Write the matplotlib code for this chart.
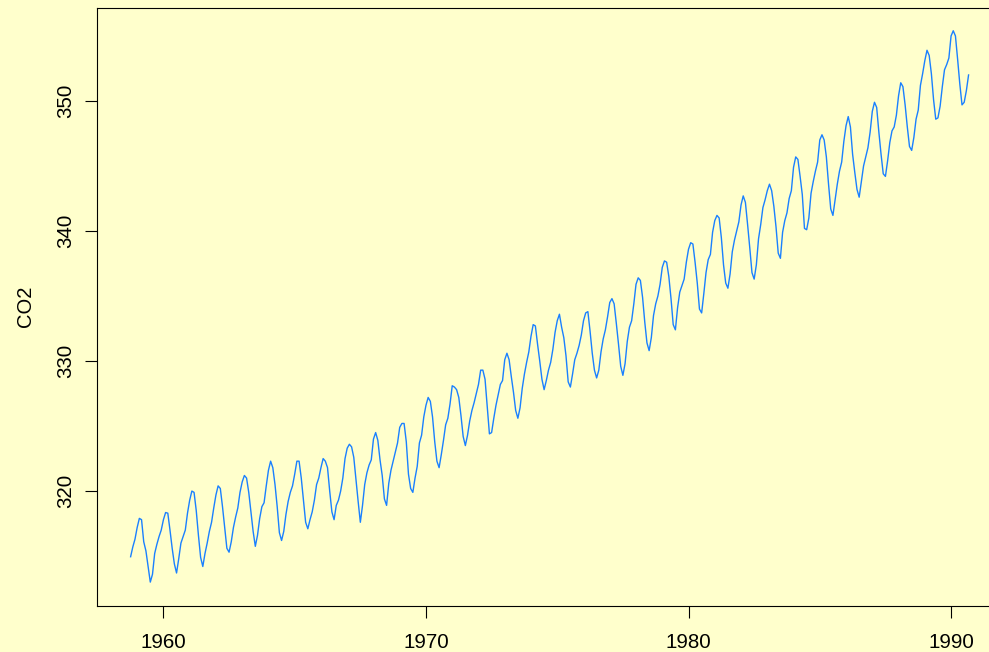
import numpy as np
import matplotlib
matplotlib.use("Agg")
import matplotlib.pyplot as plt

# monthly CO2 series, 12 values per line
start = 1958.75
freq = 12
co2 = [
    314.95, 315.7, 316.3, 317.2, 317.9, 317.8, 316.1, 315.4, 314.2, 313.0, 313.6, 315.2,
    315.9, 316.5, 317.0, 317.8, 318.35, 318.3, 317.0, 315.6, 314.4, 313.7, 314.8, 316.0,
    316.5, 317.0, 318.3, 319.3, 320.0, 319.9, 318.5, 316.6, 314.9, 314.2, 315.2, 316.0,
    316.9, 317.6, 318.7, 319.7, 320.4, 320.2, 318.8, 317.2, 315.6, 315.3, 316.1, 317.2,
    318.0, 318.7, 319.9, 320.7, 321.2, 321.0, 319.9, 318.4, 316.9, 315.75, 316.6, 317.9,
    318.8, 319.1, 320.4, 321.6, 322.3, 321.8, 320.5, 318.8, 316.8, 316.2, 316.9, 318.2,
    319.2, 319.9, 320.4, 321.3, 322.3, 322.3, 321.0, 319.3, 317.6, 317.1, 317.8, 318.4,
    319.3, 320.5, 321.0, 321.8, 322.5, 322.3, 321.8, 320.0, 318.4, 317.8, 318.9, 319.3,
    320.0, 321.0, 322.5, 323.3, 323.6, 323.4, 322.6, 320.9, 319.2, 317.6, 318.9, 320.5,
    321.4, 322.0, 322.4, 324.0, 324.5, 323.9, 322.4, 321.2, 319.4, 318.9, 320.6, 321.6,
    322.3, 323.0, 323.7, 324.9, 325.2, 325.2, 323.8, 321.3, 320.2, 319.9, 321.0, 321.9,
    323.7, 324.3, 325.7, 326.6, 327.2, 326.9, 325.7, 323.8, 322.3, 321.8, 322.8, 323.9,
    325.1, 325.6, 326.7, 328.1, 328.0, 327.8, 327.2, 325.8, 324.2, 323.5, 324.3, 325.4,
    326.2, 326.8, 327.5, 328.2, 329.3, 329.3, 328.6, 326.5, 324.4, 324.5, 325.6, 326.6,
    327.4, 328.2, 328.5, 330.1, 330.6, 330.1, 328.8, 327.6, 326.2, 325.6, 326.4, 327.9,
    329.0, 329.9, 330.7, 331.9, 332.8, 332.7, 331.3, 330.0, 328.6, 327.8, 328.5, 329.3,
    329.9, 330.9, 332.2, 333.1, 333.6, 332.6, 331.8, 330.4, 328.4, 328.0, 329.0, 330.1,
    330.6, 331.2, 332.0, 333.1, 333.7, 333.8, 332.3, 330.6, 329.3, 328.7, 329.3, 330.7,
    331.7, 332.4, 333.4, 334.5, 334.8, 334.4, 332.9, 331.3, 329.6, 328.9, 329.8, 331.5,
    332.6, 333.1, 334.4, 335.9, 336.4, 336.2, 334.9, 333.0, 331.4, 330.8, 331.8, 333.5,
    334.4, 335.0, 335.9, 337.2, 337.7, 337.6, 336.5, 334.8, 332.8, 332.4, 334.1, 335.3,
    335.8, 336.3, 337.6, 338.6, 339.1, 339.0, 337.6, 336.0, 334.0, 333.7, 335.2, 336.8,
    337.8, 338.2, 339.9, 340.8, 341.2, 341.0, 339.5, 337.4, 336.0, 335.6, 336.7, 338.4,
    339.3, 340.0, 340.7, 342.0, 342.7, 342.2, 340.5, 338.7, 336.8, 336.3, 337.4, 339.4,
    340.5, 341.8, 342.4, 343.1, 343.6, 343.1, 341.9, 340.3, 338.3, 337.9, 339.9, 340.8,
    341.4, 342.5, 343.1, 344.9, 345.7, 345.5, 344.2, 342.8, 340.2, 340.1, 341.0, 342.9,
    343.8, 344.6, 345.3, 347.0, 347.4, 347.0, 345.7, 343.6, 341.7, 341.2, 342.4, 343.6,
    344.6, 345.3, 346.9, 348.1, 348.8, 348.0, 345.9, 344.5, 343.2, 342.6, 343.8, 345.0,
    345.7, 346.4, 347.6, 349.2, 349.9, 349.5, 347.6, 345.9, 344.4, 344.2, 345.4, 346.8,
    347.7, 348.0, 348.9, 350.4, 351.4, 351.1, 349.7, 348.0, 346.5, 346.2, 347.2, 348.6,
    349.3, 351.2, 352.1, 353.1, 353.9, 353.5, 352.1, 350.1, 348.6, 348.7, 349.6, 351.1,
    352.4, 352.8, 353.3, 355.0, 355.4, 355.0, 353.2, 351.3, 349.7, 349.9, 350.8, 352.0,
]
xticks = [1960, 1970, 1980, 1990]
yticks = [320, 330, 340, 350]

t = start + np.arange(len(co2)) / freq

plt.rcParams['font.family'] = ['Liberation Sans', 'DejaVu Sans']
bg = '#ffffcc'

fig = plt.figure(figsize=(9.89, 6.52), dpi=100, facecolor=bg)
ax = fig.add_axes([97 / 989, 46.5 / 652, 905 / 989, 597.5 / 652], facecolor=bg)

ax.plot(t, co2, color='#1a80ff', lw=1.0)

ax.set_xlim(1957.47, 1991.94)
ax.set_ylim(311.2, 357.15)
ax.set_xticks(xticks)
ax.set_yticks(yticks)
ax.set_ylabel('CO2', fontsize=14.5, labelpad=15)

ax.tick_params(axis='both', direction='out', length=8.6, width=0.8,
               colors='black', labelsize=14.8)
ax.tick_params(axis='x', pad=11)
ax.tick_params(axis='y', pad=7, labelrotation=90)
for lab in ax.get_yticklabels():
    lab.set_va('center')

for s in ax.spines.values():
    s.set_linewidth(0.8)
    s.set_color('black')

fig.savefig('out.png', dpi=100, facecolor=bg)
